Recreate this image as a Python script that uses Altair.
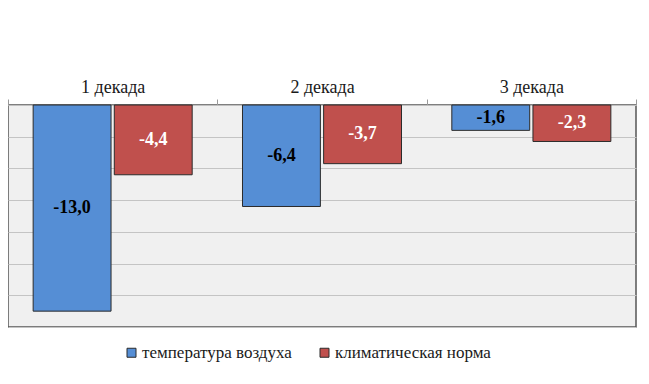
import altair as alt
import pandas as pd

decades = ["1 декада", "2 декада", "3 декада"]
series = ["температура воздуха", "климатическая норма"]
temp_values = [-13.0, -6.4, -1.6]
norm_values = [-4.4, -3.7, -2.3]

rows = []
for d, t, n in zip(decades, temp_values, norm_values):
    rows.append({"decade": d, "series": series[0], "value": t})
    rows.append({"decade": d, "series": series[1], "value": n})
df = pd.DataFrame(rows)
df["label"] = df["value"].map(lambda v: f"{v:.1f}".replace(".", ","))

FONT = "Liberation Serif"

xaxis = alt.Axis(orient="top", labelAngle=0, labelFont=FONT, labelFontSize=18,
                 labelColor="#1a1a1a", labelPadding=3, tickBand="extent",
                 tickSize=6, tickColor="#9a9a9a", domainColor="#c0c0c0",
                 grid=False, title=None)
yaxis = alt.Axis(values=list(range(-14, 1, 2)), labels=False, ticks=False,
                 domain=False, grid=True, gridColor="#c4c4c4", gridWidth=1, title=None)
xscale = alt.Scale(paddingInner=0, paddingOuter=0)
yscale = alt.Scale(domain=[-14, 0], nice=False)
offscale = alt.Scale(paddingInner=0.04, paddingOuter=0.31)

bars = alt.Chart(df).mark_bar(stroke="#2b2b2b", strokeWidth=1).encode(
    x=alt.X("decade:N", sort=decades, scale=xscale, axis=xaxis),
    xOffset=alt.XOffset("series:N", sort=series, scale=offscale),
    y=alt.Y("value:Q", scale=yscale, axis=yaxis),
    color=alt.Color("series:N", sort=series,
                    scale=alt.Scale(domain=series, range=["#558ED5", "#C0504D"]),
                    legend=alt.Legend(orient="none", legendX=115, legendY=239,
                                      direction="horizontal", title=None,
                                      symbolType="square", symbolSize=81,
                                      symbolStrokeColor="#2b2b2b", symbolStrokeWidth=1,
                                      symbolOpacity=1,
                                      labelFont=FONT, labelFontSize=17, labelLimit=0,
                                      labelColor="#1a1a1a", labelOffset=2,
                                      columnPadding=24, padding=0)),
)

text = alt.Chart(df).transform_calculate(
    mid="datum.value / 2",
    tc="datum.series === 'климатическая норма' ? 'white' : 'black'",
).mark_text(font=FONT, fontSize=18, fontWeight="bold", baseline="middle").encode(
    x=alt.X("decade:N", sort=decades, scale=xscale, axis=xaxis),
    xOffset=alt.XOffset("series:N", sort=series, scale=offscale),
    y=alt.Y("mid:Q", scale=yscale, axis=yaxis),
    text="label:N",
    color=alt.Color("tc:N", scale=None),
)

chart = alt.layer(bars, text).properties(
    width=628, height=222,
    autosize=alt.AutoSizeParams(type="none"),
    padding={"left": 0, "top": 97, "right": 5, "bottom": 49},
).configure_view(fill="#f0f0f0", stroke="#555555", strokeWidth=1.5)

chart.save("out.html", embed_options={"renderer": "svg", "actions": False})
